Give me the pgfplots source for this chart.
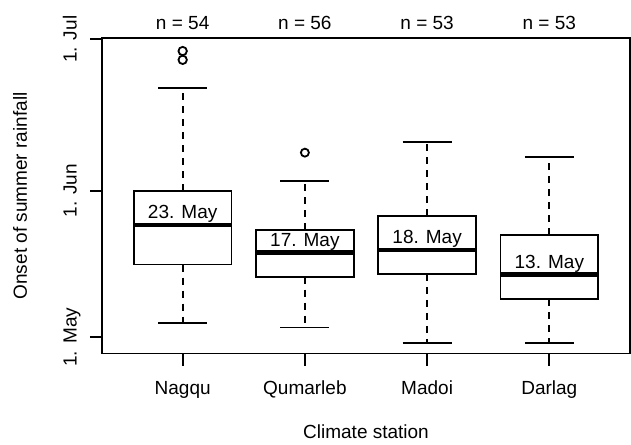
\documentclass[border=0pt]{standalone}
\usepackage{pgfplots}
\pgfplotsset{compat=1.18}
\usepgfplotslibrary{statistics}
\usepackage{fontspec}
\setmainfont{Liberation Sans}
\pgfplotsset{
  boxplot/draw/median/.code={%
    \draw[line width=4.7pt]
      (boxplot box cs:\pgfplotsboxplotvalue{median},0) -- (boxplot box cs:\pgfplotsboxplotvalue{median},1);
  },
  boxplot/draw/lower whisker/.code={%
    \draw[dash pattern=on 7pt off 6pt]
      (boxplot box cs:\pgfplotsboxplotvalue{lower quartile},0.5) -- (boxplot box cs:\pgfplotsboxplotvalue{lower whisker},0.5);
    \draw[solid]
      (boxplot whisker cs:\pgfplotsboxplotvalue{lower whisker},0) -- (boxplot whisker cs:\pgfplotsboxplotvalue{lower whisker},1);
  },
  boxplot/draw/upper whisker/.code={%
    \draw[dash pattern=on 7pt off 6pt]
      (boxplot box cs:\pgfplotsboxplotvalue{upper quartile},0.5) -- (boxplot box cs:\pgfplotsboxplotvalue{upper whisker},0.5);
    \draw[solid]
      (boxplot whisker cs:\pgfplotsboxplotvalue{upper whisker},0) -- (boxplot whisker cs:\pgfplotsboxplotvalue{upper whisker},1);
  },
}
\begin{document}
\fontsize{19}{22}\selectfont
\begin{tikzpicture}
\path[use as bounding box] (-102pt,-90.5pt) rectangle (529pt,353.5pt);
\begin{axis}[
  at={(0pt,0pt)}, anchor=south west,
  scale only axis, width=528pt, height=315.2pt,
  xmin=0.34, xmax=4.66, ymin=-2.32, ymax=62.21,
  clip=false,
  axis line style={line width=1.8pt},
  tick style={line width=1.8pt, black},
  major tick length=12pt, tick align=outside,
  xtick pos=bottom, ytick pos=left,
  xtick={1,2,3,4}, xticklabels={Nagqu,Qumarleb,Madoi,Darlag},
  ytick={1,31,62}, yticklabels={1. May,1. Jun,1. Jul},
  yticklabel style={xshift=-13.3pt, rotate=90, anchor=base, inner sep=0pt},
  xticklabel style={anchor=base, inner sep=0pt, yshift=-29pt},
  every axis x label/.style={at={(axis description cs:0.5,0)}, anchor=base, yshift=-85pt, inner sep=0pt},
  every axis y label/.style={at={(axis description cs:0,0.5)}, xshift=-75pt, rotate=90, anchor=base, inner sep=0pt},
  xlabel={Climate station},
  ylabel={Onset of summer rainfall},
  boxplot/draw direction=y,
  boxplot/box extend=0.8,
  boxplot/whisker extend=0.4,
]
\addplot[black, line width=1.8pt, mark=o, mark size=4.2pt, mark options={solid},
  boxplot prepared={draw position=1, lower whisker=3.9, lower quartile=15.9, median=24.0, upper quartile=31.0, upper whisker=52.0}]
  table[row sep=\\, y index=0] {data\\ 57.8\\ 59.6\\};
\addplot[black, line width=1.8pt, mark=o, mark size=4.0pt, mark options={solid},
  boxplot prepared={draw position=2, lower whisker=3.0, lower quartile=13.4, median=18.4, upper quartile=23.0, upper whisker=33.0}]
  table[row sep=\\, y index=0] {data\\ 38.8\\};
\addplot[black, line width=1.8pt, mark=o, mark size=4.0pt, mark options={solid},
  boxplot prepared={draw position=3, lower whisker=-0.1, lower quartile=14.0, median=18.9, upper quartile=25.9, upper whisker=40.9}]
  coordinates {};
\addplot[black, line width=1.8pt, mark=o, mark size=4.0pt, mark options={solid},
  boxplot prepared={draw position=4, lower whisker=-0.1, lower quartile=8.8, median=13.9, upper quartile=21.9, upper whisker=37.9}]
  coordinates {};
\node[anchor=base, inner sep=0pt, yshift=6pt] at (axis cs:1,24.0) {23. May};
\node[anchor=base, inner sep=0pt, yshift=6pt] at (axis cs:2,18.4) {17. May};
\node[anchor=base, inner sep=0pt, yshift=6pt] at (axis cs:3,18.9) {18. May};
\node[anchor=base, inner sep=0pt, yshift=6pt] at (axis cs:4,13.9) {13. May};
\node[anchor=base, inner sep=0pt, yshift=9pt] at (axis cs:1,62.21) {n = 54};
\node[anchor=base, inner sep=0pt, yshift=9pt] at (axis cs:2,62.21) {n = 56};
\node[anchor=base, inner sep=0pt, yshift=9pt] at (axis cs:3,62.21) {n = 53};
\node[anchor=base, inner sep=0pt, yshift=9pt] at (axis cs:4,62.21) {n = 53};
\end{axis}
\end{tikzpicture}
\end{document}
